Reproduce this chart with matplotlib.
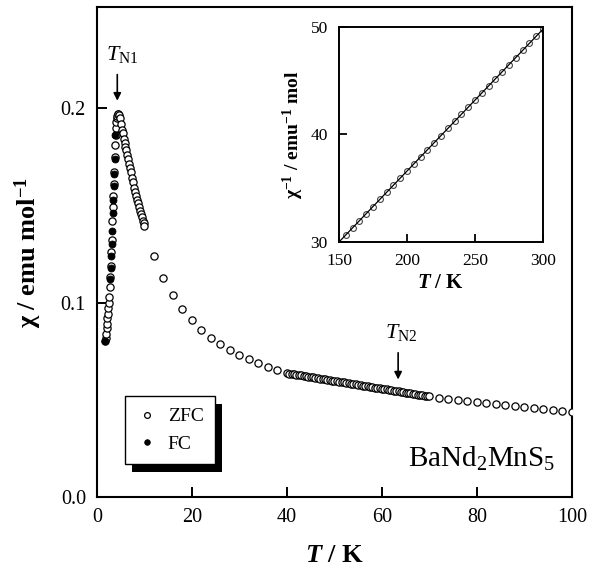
import matplotlib
matplotlib.use('Agg')
import matplotlib.pyplot as plt
from matplotlib.patches import Rectangle

plt.rcParams['font.family'] = ['Liberation Serif', 'DejaVu Serif']
plt.rcParams['mathtext.fontset'] = 'custom'
plt.rcParams['mathtext.rm'] = 'Liberation Serif'
plt.rcParams['mathtext.it'] = 'Liberation Serif:italic'
plt.rcParams['mathtext.bf'] = 'Liberation Serif:bold'
plt.rcParams['mathtext.bfit'] = 'Liberation Serif:bold:italic'
plt.rcParams['mathtext.default'] = 'regular'

# ZFC, low-T cusp
t_zfc_low = [1.7, 1.8, 1.9, 2.0, 2.1, 2.2, 2.3, 2.4, 2.5, 2.6, 2.7, 2.8, 2.9, 3.0,
             3.1, 3.2, 3.3, 3.4, 3.5, 3.6, 3.7, 3.8, 3.9, 4.0, 4.1, 4.2, 4.3, 4.4,
             4.5, 4.6, 4.8, 5.0, 5.2, 5.4, 5.6, 5.8, 6.0, 6.2, 6.4, 6.6, 6.8, 7.0,
             7.2, 7.4, 7.6, 7.8, 8.0, 8.2, 8.4, 8.6, 8.8, 9.0, 9.2, 9.4, 9.6, 9.8, 10.0]
chi_zfc_low = [0.080, 0.082, 0.084, 0.087, 0.089, 0.092, 0.094, 0.097, 0.100, 0.103,
               0.108, 0.113, 0.119, 0.126, 0.132, 0.142, 0.149, 0.155, 0.161, 0.167,
               0.175, 0.181, 0.186, 0.190, 0.193, 0.195, 0.196, 0.197,
               0.197, 0.1965, 0.195, 0.192, 0.189, 0.187, 0.184, 0.182, 0.180, 0.1785,
               0.176, 0.174, 0.1715, 0.169, 0.167, 0.164, 0.162, 0.159, 0.157, 0.155,
               0.153, 0.151, 0.149, 0.147, 0.1455, 0.144, 0.142, 0.141, 0.1395]

# ZFC, 12-38 K every 2 K
t_zfc_mid = [12, 14, 16, 18, 20, 22, 24, 26, 28, 30, 32, 34, 36, 38]
chi_zfc_mid = [0.124, 0.1125, 0.104, 0.0965, 0.0908, 0.086, 0.0818, 0.0786, 0.0758,
               0.0731, 0.0708, 0.0687, 0.0670, 0.0653]

# ZFC, dense 40-70 K
t_zfc_dense = [40.0, 40.5, 41.0, 41.5, 42.0, 42.5, 43.0, 43.5, 44.0, 44.5, 45.0, 45.5,
               46.0, 46.5, 47.0, 47.5, 48.0, 48.5, 49.0, 49.5, 50.0, 50.5, 51.0, 51.5,
               52.0, 52.5, 53.0, 53.5, 54.0, 54.5, 55.0, 55.5, 56.0, 56.5, 57.0, 57.5,
               58.0, 58.5, 59.0, 59.5, 60.0, 60.5, 61.0, 61.5, 62.0, 62.5, 63.0, 63.5,
               64.0, 64.5, 65.0, 65.5, 66.0, 66.5, 67.0, 67.5, 68.0, 68.5, 69.0, 69.5, 70.0]
chi_zfc_dense = [0.0637, 0.0635, 0.0633, 0.0631, 0.0629, 0.0627, 0.0625, 0.0623, 0.0621,
                 0.0619, 0.0617, 0.0615, 0.0613, 0.0611, 0.0609, 0.0607, 0.0605, 0.0603,
                 0.0601, 0.0599, 0.0597, 0.0595, 0.0593, 0.0591, 0.0589, 0.0587, 0.0585,
                 0.0583, 0.0581, 0.0579, 0.0577, 0.0575, 0.0573, 0.0571, 0.0569, 0.0567,
                 0.0565, 0.0563, 0.0561, 0.0559, 0.0557, 0.0555, 0.0553, 0.0551, 0.0549,
                 0.0547, 0.0545, 0.0543, 0.0541, 0.0539, 0.0537, 0.0535, 0.0533, 0.0531,
                 0.0529, 0.0527, 0.0525, 0.0523, 0.0521, 0.0519, 0.0517]

# ZFC, 72-100 K every 2 K
t_zfc_high = [72, 74, 76, 78, 80, 82, 84, 86, 88, 90, 92, 94, 96, 98, 100]
chi_zfc_high = [0.0508, 0.0503, 0.0498, 0.0493, 0.0488, 0.0483, 0.0479, 0.0474, 0.0469,
                0.0464, 0.0459, 0.0454, 0.0449, 0.0444, 0.0439]

# FC points on the rising branch
t_fc = [1.70, 2.78, 2.88, 2.98, 3.08, 3.18, 3.30, 3.40, 3.50, 3.58, 3.70, 3.85]
chi_fc = [0.080, 0.112, 0.118, 0.124, 0.130, 0.137, 0.146, 0.153, 0.160, 0.166, 0.174, 0.186]

# inset: 1/chi vs T
t_inv = [155, 160, 165, 170, 175, 180, 185, 190, 195, 200, 205, 210, 215, 220, 225,
         230, 235, 240, 245, 250, 255, 260, 265, 270, 275, 280, 285, 290, 295, 300]
inv_chi = [30.66, 31.32, 31.98, 32.64, 33.30, 33.96, 34.62, 35.28, 35.94, 36.60, 37.26,
           37.92, 38.58, 39.24, 39.90, 40.56, 41.22, 41.88, 42.54, 43.20, 43.86, 44.52,
           45.18, 45.84, 46.50, 47.16, 47.82, 48.48, 49.14, 49.80]
t_fit = [150, 300]
inv_fit = [30.0, 49.8]

t_zfc = t_zfc_low + t_zfc_mid + t_zfc_dense + t_zfc_high
chi_zfc = chi_zfc_low + chi_zfc_mid + chi_zfc_dense + chi_zfc_high

fig = plt.figure(figsize=(6.01, 5.73), dpi=100)
ax = fig.add_axes([0.1614, 0.1326, 0.7903, 0.8551])

ax.plot(t_zfc, chi_zfc, 'o', ms=5.2, mfc='white', mec='black', mew=0.9, label='ZFC', zorder=3)
ax.plot(t_fc, chi_fc, 'o', ms=5.0, mfc='black', mec='black', mew=0.6, label='FC', zorder=4)

ax.set_xlim(0, 100)
ax.set_ylim(0, 0.252)
ax.set_xticks([0, 20, 40, 60, 80, 100])
ax.set_yticks([0.0, 0.1, 0.2])
ax.set_yticklabels(['0.0', '0.1', '0.2'])
ax.tick_params(direction='in', length=7, width=1.4, labelsize=14.5, pad=8)
for s in ax.spines.values():
    s.set_linewidth(1.5)

ax.set_xlabel(r'$\mathbfit{T}$ / K', fontsize=19, fontweight='bold', labelpad=12)
ax.set_ylabel(r'χ / emu mol$^{-1}$', fontsize=19, fontweight='bold', labelpad=12)

# transition markers
ax.text(5.3, 0.2247, r'$\mathit{T}_{\mathrm{N1}}$', fontsize=16, ha='center', va='baseline')
ax.annotate('', xy=(4.27, 0.2024), xytext=(4.27, 0.2187),
            arrowprops=dict(arrowstyle='-|>', color='black', lw=1.2, mutation_scale=11))
ax.text(64.0, 0.0817, r'$\mathit{T}_{\mathrm{N2}}$', fontsize=16, ha='center', va='baseline')
ax.annotate('', xy=(63.4, 0.0590), xytext=(63.4, 0.0756),
            arrowprops=dict(arrowstyle='-|>', color='black', lw=1.2, mutation_scale=11))

ax.text(96.4, 0.0154, r'BaNd$_2$MnS$_5$', fontsize=21, ha='right', va='baseline')

leg = ax.legend(loc='upper left', bbox_to_anchor=(0.059, 0.206), fontsize=14,
                fancybox=False, edgecolor='black', framealpha=1, borderpad=0.6,
                borderaxespad=0, handletextpad=0.5, handlelength=1.1, labelspacing=0.5,
                markerscale=0.8)
leg.get_frame().set_linewidth(1.0)
leg.set_zorder(6)
fig.canvas.draw()
bb = leg.get_window_extent().transformed(ax.transAxes.inverted())
ax.add_patch(Rectangle((bb.x0 + 0.015, bb.y0 - 0.016), bb.width, bb.height,
                       transform=ax.transAxes, facecolor='black', edgecolor='none', zorder=5))

# inset
axi = fig.add_axes([0.5641, 0.5777, 0.3394, 0.3752])
axi.plot(t_inv, inv_chi, 'o', ms=4.2, mfc='white', mec='#444444', mew=0.8, zorder=2)
axi.plot(t_fit, inv_fit, '-', color='black', lw=0.9, zorder=3)
axi.set_xlim(150, 300)
axi.set_ylim(30, 50)
axi.set_xticks([150, 200, 250, 300])
axi.set_yticks([30, 40, 50])
axi.tick_params(direction='in', length=6, width=1.3, labelsize=12.5, pad=8)
for s in axi.spines.values():
    s.set_linewidth(1.4)
axi.set_xlabel(r'$\mathbfit{T}$ / K', fontsize=15, fontweight='bold', labelpad=3)
axi.set_ylabel(r'χ$^{-1}$ / emu$^{-1}$ mol', fontsize=14, fontweight='bold', labelpad=3)

fig.savefig('out.png', dpi=100)
